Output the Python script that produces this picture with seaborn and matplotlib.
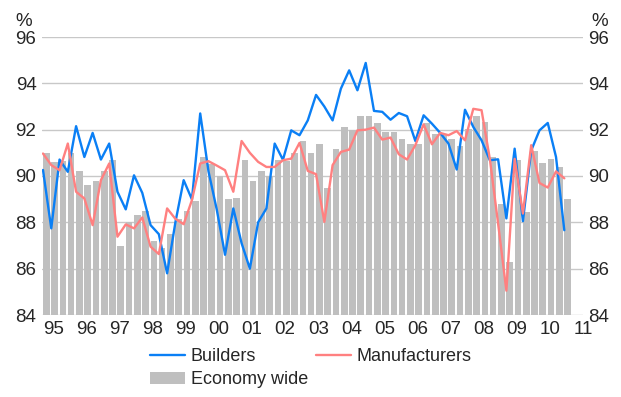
import numpy as np
import pandas as pd
import matplotlib
matplotlib.use("Agg")
import matplotlib.pyplot as plt
import seaborn as sns

# Capacity utilisation, quarterly, 1995 Q1 - 2010 Q4 (per cent)
year_labels = ["95", "96", "97", "98", "99", "00", "01", "02", "03",
               "04", "05", "06", "07", "08", "09", "10", "11"]

economy_wide = [
    91.0, 90.6, 90.65, 91.0,
    90.2, 89.6, 89.8, 90.2,
    90.7, 87.0, 88.0, 88.3,
    88.5, 87.2, 86.9, 87.5,
    88.15, 88.5, 88.9, 90.8,
    90.5, 90.0, 89.0, 89.05,
    90.7, 89.8, 90.2, 90.0,
    90.7, 90.65, 91.0, 91.5,
    91.0, 91.4, 89.5, 91.15,
    92.1, 92.0, 92.6, 92.6,
    92.3, 91.9, 91.9, 91.6,
    91.4, 91.4, 92.3, 91.8,
    91.8, 91.6, 91.3, 92.05,
    92.6, 92.35, 90.8, 88.8,
    86.3, 90.7, 88.45, 91.1,
    90.55, 90.75, 90.4, 89.0,
]

builders = [
    90.26, 87.74, 90.71, 90.18,
    92.15, 90.82, 91.86, 90.71,
    91.4, 89.32, 88.56, 90.03,
    89.27, 87.88, 87.49, 85.8,
    88.0, 89.82, 88.99, 92.7,
    90.2, 88.55, 86.6, 88.6,
    87.1, 86.0, 88.0, 88.6,
    91.4, 90.7, 91.97, 91.76,
    92.4, 93.5, 93.0, 92.4,
    93.77, 94.56, 93.7, 94.88,
    92.81, 92.77, 92.43, 92.72,
    92.58, 91.51, 92.62, 92.26,
    91.86, 91.4, 90.28, 92.86,
    92.12, 91.54, 90.68, 90.72,
    88.17, 91.18, 88.05, 91.1,
    91.97, 92.29, 90.82, 87.66,
]

manufacturers = [
    90.97, 90.47, 90.25, 91.4,
    89.32, 89.03, 87.88, 89.82,
    90.54, 87.38, 87.91, 87.74,
    88.21, 86.95, 86.63, 88.6,
    88.15, 87.92, 88.96, 90.54,
    90.64, 90.45, 90.25, 89.32,
    91.51, 91.0, 90.61, 90.39,
    90.39, 90.68, 90.75, 91.43,
    90.22, 90.08, 88.02, 90.47,
    91.04, 91.14, 91.97, 92.0,
    92.09, 91.57, 91.66, 90.94,
    90.71, 91.33, 92.23, 91.37,
    91.86, 91.76, 91.94, 91.54,
    92.9, 92.84, 90.74, 87.95,
    85.05, 90.74, 88.38, 91.33,
    89.7, 89.5, 90.2, 89.9,
]

BLUE = "#0a7ff5"
PINK = "#ff8080"
GREY = "#bfbfbf"
GRID = "#c8c8c8"
FS = 13.5

sns.set_theme(style="white")
plt.rcParams["font.family"] = ["Liberation Sans", "DejaVu Sans"]

df = pd.DataFrame({
    "q": np.arange(len(economy_wide), dtype=float),
    "economy": economy_wide,
    "builders": builders,
    "manufacturers": manufacturers,
})
df["bar_x"] = df["q"] + 0.4

fig = plt.figure(figsize=(6.21, 3.97), dpi=100)
ax = fig.add_axes([42 / 621, 1 - 315 / 397, (583 - 42) / 621, (315 - 37) / 397])

sns.barplot(data=df, x="bar_x", y="economy", native_scale=True, width=0.8,
            color=GREY, saturation=1, errorbar=None, ax=ax,
            label="Economy wide", zorder=2, linewidth=0, edgecolor=GREY)
sns.lineplot(data=df, x="q", y="builders", color=BLUE, lw=1.7, ax=ax,
             label="Builders", zorder=3)
sns.lineplot(data=df, x="q", y="manufacturers", color=PINK, lw=1.7, ax=ax,
             label="Manufacturers", zorder=3)
if ax.legend_ is not None:
    ax.legend_.remove()

ax.set_xlim(-0.12, 64.7)
ax.set_ylim(84, 96)
ax.set_yticks(range(84, 97, 2))
ax.set_yticklabels([str(v) for v in range(84, 97, 2)])
ax.set_xticks([1.26 + 4 * k for k in range(len(year_labels))])
ax.set_xticklabels(year_labels)
ax.set_xlabel("")
ax.set_ylabel("")

ax.grid(axis="y", color=GRID, lw=1.0, zorder=0)
ax.grid(axis="x", visible=False)
ax.set_axisbelow(True)
for s in ax.spines.values():
    s.set_visible(False)

ax.tick_params(axis="y", length=0, labelsize=FS, labelleft=True,
               labelright=True, pad=4)
ax.tick_params(axis="x", length=0, labelsize=FS, pad=4)
for t in ax.get_xticklabels() + ax.get_yticklabels():
    t.set_clip_on(False)

fig.text(24 / 621, 1 - 22 / 397, "%", fontsize=FS, ha="center", va="center")
fig.text(600 / 621, 1 - 22 / 397, "%", fontsize=FS, ha="center", va="center")

handles, labels = ax.get_legend_handles_labels()
lookup = dict(zip(labels, handles))
order = ["Builders", "Economy wide", "Manufacturers"]
fig.legend([lookup[k] for k in order], order, ncol=2, loc="upper left",
           bbox_to_anchor=(150 / 621, 1 - 348 / 397), frameon=False,
           borderpad=0, borderaxespad=0, handlelength=1.95,
           handletextpad=0.3, columnspacing=0.45, labelspacing=0.35,
           fontsize=13)

fig.savefig("out.png", dpi=100)
